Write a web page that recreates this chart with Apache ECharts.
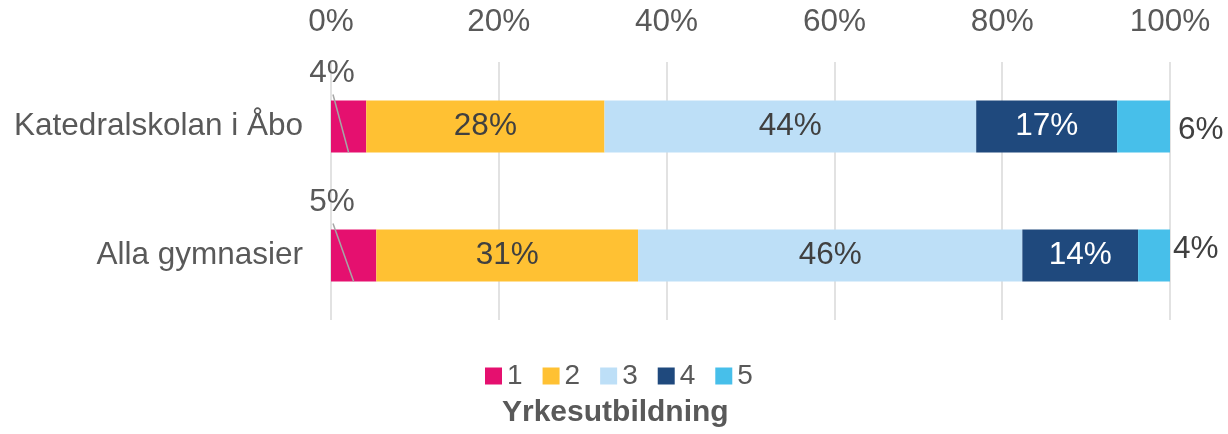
<!DOCTYPE html>
<html>
<head>
<meta charset="utf-8">
<script src="https://cdn.jsdelivr.net/npm/echarts@6/dist/echarts.min.js"></script>
<style>
  html, body { margin: 0; padding: 0; background: #fff; }
  #main { width: 1228px; height: 434px; }
</style>
</head>
<body>
<div id="main"></div>
<script>
  // data (percent of each row)
  const categories = ['Katedralskolan i Åbo', 'Alla gymnasier']
  const seriesNames = ['1', '2', '3', '4', '5']
  const values1 = [4.2, 5.4]
  const values2 = [28.4, 31.2]
  const values3 = [44.3, 45.8]
  const values4 = [16.8, 13.8]
  const values5 = [6.3, 3.8]
  const xTicks = [0, 20, 40, 60, 80, 100]

  const colors = ['#E5106F', '#FFC133', '#BDDFF7', '#1F497D', '#47BFEA']
  const textColor = '#595959'
  const font = 'Liberation Sans, Arial, sans-serif'
  const labelSize = 31.5
  const barW = 52

  const fmt = function (p) { return Math.round(p.value) + '%' }

  function makeSeries(name, data, idx) {
    const s = {
      name: name,
      type: 'bar',
      stack: 'total',
      data: data,
      barWidth: barW,
      itemStyle: { color: colors[idx] },
      label: {
        show: true,
        position: 'inside',
        formatter: fmt,
        fontFamily: font,
        fontSize: labelSize,
        color: idx === 3 ? '#ffffff' : '#404040'
      }
    }
    if (idx === 0) {
      // small slice: label sits above the bar, leader line added below
      s.label.position = 'top'
      s.label.color = textColor
      s.labelLayout = function (p) {
        const r = p.rect
        return { x: r.x + 1, y: r.y - 27, align: 'center', verticalAlign: 'middle' }
      }
    }
    if (idx === 4) {
      s.label.position = 'right'
      s.label.distance = 8
      s.label.color = '#404040'
      s.labelLayout = function (p) {
        return p.dataIndex === 0 ? { dy: 4 } : { dx: -5, dy: -6 }
      }
    }
    return s
  }

  const myChart = echarts.init(document.getElementById('main'))
  const option = {
    backgroundColor: '#ffffff',
    animation: false,
    title: {
      text: 'Yrkesutbildning',
      left: 502,
      top: 398,
      padding: 0,
      textStyle: { fontFamily: font, fontSize: 30, fontWeight: 'bold', color: textColor }
    },
    legend: {
      data: seriesNames,
      left: 485,
      top: 362,
      padding: 0,
      itemWidth: 17,
      itemHeight: 17,
      itemGap: 20,
      icon: 'rect',
      textStyle: { fontFamily: font, fontSize: 28, color: textColor }
    },
    grid: { left: 331, right: 58, top: 62, bottom: 114 },
    xAxis: {
      type: 'value',
      position: 'top',
      min: 0,
      max: 100,
      interval: 20,
      axisLine: { show: false },
      axisTick: { show: false },
      splitLine: { show: true, lineStyle: { color: '#D9D9D9', width: 1.5 } },
      axisLabel: {
        margin: 24,
        fontFamily: font,
        fontSize: labelSize,
        color: textColor,
        formatter: function (v) { return xTicks.indexOf(v) >= 0 ? v + '%' : '' }
      }
    },
    yAxis: {
      type: 'category',
      inverse: true,
      data: categories,
      axisLine: { show: false },
      axisTick: { show: false },
      axisLabel: { margin: 28, fontFamily: font, fontSize: labelSize, color: textColor }
    },
    series: [
      makeSeries('1', values1, 0),
      makeSeries('2', values2, 1),
      makeSeries('3', values3, 2),
      makeSeries('4', values4, 3),
      makeSeries('5', values5, 4)
    ]
  }
  myChart.setOption(option, true)

  // leader lines from the "1" labels into their slices, placed with the chart's own scales
  const leaders = categories.map(function (cat, i) {
    const start = myChart.convertToPixel({ gridIndex: 0 }, [0, cat])
    const mid = myChart.convertToPixel({ gridIndex: 0 }, [values1[i] / 2, cat])
    return {
      type: 'line',
      z: 100,
      shape: { x1: start[0] + 2, y1: start[1] - barW / 2 - 6, x2: mid[0], y2: start[1] + barW / 2 },
      style: { stroke: '#A6A6A6', lineWidth: 1.5 }
    }
  })
  myChart.setOption({ graphic: leaders })
</script>
</body>
</html>
